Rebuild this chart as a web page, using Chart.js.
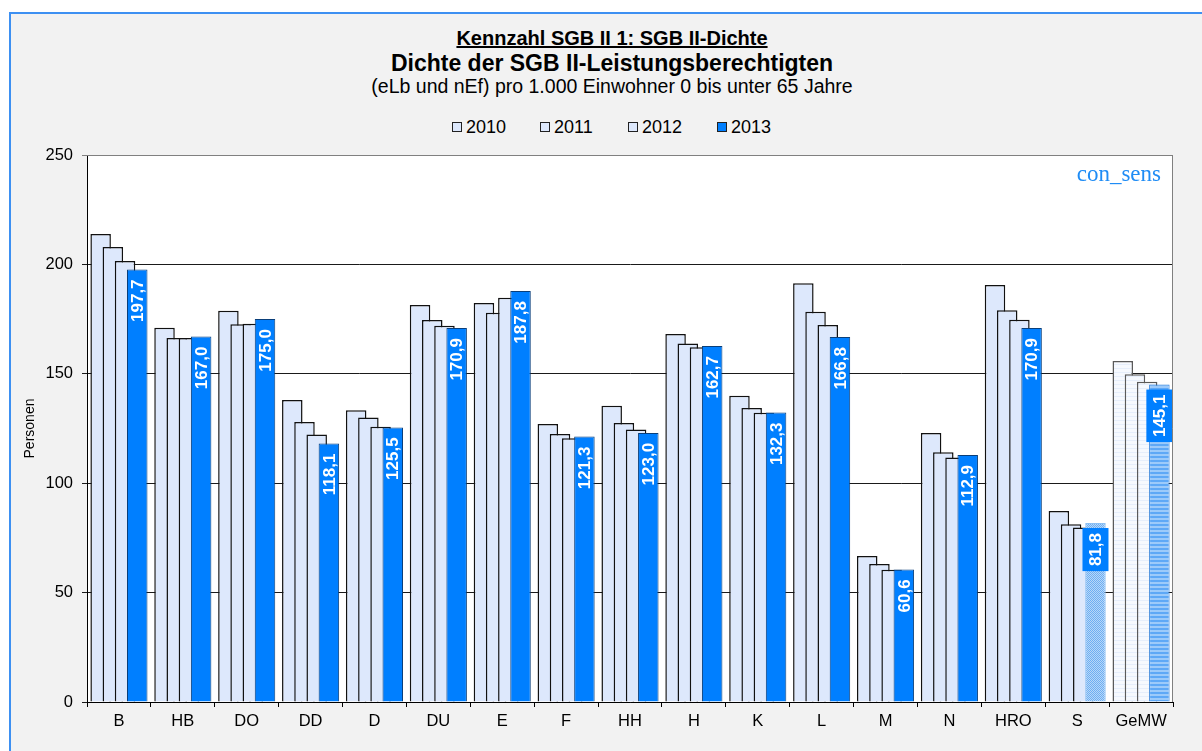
<!DOCTYPE html>
<html>
<head>
<meta charset="utf-8">
<script src="https://cdn.jsdelivr.net/npm/chart.js@4.4.1/dist/chart.umd.min.js"></script>
<style>
body { margin: 0; background: #fff; width: 1202px; height: 751px; overflow: hidden; font-family: Arial, "Liberation Sans", sans-serif; }
#frame { position: absolute; left: 9px; top: 12px; width: 1200px; height: 750px; background: #f2f2f2; border-left: 2px solid #3d90f2; border-top: 2px solid #3d90f2; }
.t { position: absolute; left: 0; width: 1224px; text-align: center; color: #000; white-space: nowrap; }
#t1 { top: 27px; font-size: 20px; font-weight: bold; line-height: 22px; text-decoration: underline; }
#t2 { top: 51px; font-size: 23px; font-weight: bold; line-height: 24px; }
#t3 { top: 76px; font-size: 19.5px; line-height: 20px; }
.lg { position: absolute; top: 116px; font-size: 18px; line-height: 22px; color: #000; }
.lg span { display: inline-block; width: 8px; height: 8px; border: 1px solid #222; margin-right: 4px; vertical-align: 1px; }
#chartBox { position: absolute; left: 0; top: 0; width: 1202px; height: 751px; }
</style>
</head>
<body>
<div id="frame"></div>
<div class="t" id="t1">Kennzahl SGB II 1: SGB II-Dichte</div>
<div class="t" id="t2">Dichte der SGB II-Leistungsberechtigten</div>
<div class="t" id="t3">(eLb und nEf) pro 1.000 Einwohner 0 bis unter 65 Jahre</div>
<div id="legend"></div>
<div id="chartBox"><canvas id="densityChart" width="1202" height="751"></canvas></div>
<script>
var categories = ['B', 'HB', 'DO', 'DD', 'D', 'DU', 'E', 'F', 'HH', 'H', 'K', 'L', 'M', 'N', 'HRO', 'S', 'GeMW'];
var years = ['2010', '2011', '2012', '2013'];
var values2010 = [213.9, 171.0, 178.8, 138.0, 133.3, 181.4, 182.4, 127.0, 135.4, 168.2, 140.0, 191.4, 66.7, 123.0, 190.6, 87.3, 155.9];
var values2011 = [207.9, 166.4, 172.6, 128.0, 130.0, 174.6, 177.9, 122.5, 127.5, 163.9, 134.4, 178.4, 63.1, 114.2, 179.0, 81.2, 149.8];
var values2012 = [201.6, 166.4, 172.9, 122.3, 125.8, 172.0, 184.8, 120.6, 124.6, 162.1, 132.2, 172.3, 60.5, 111.8, 174.7, 79.7, 146.4];
var values2013 = [197.7, 167.0, 175.0, 118.1, 125.5, 170.9, 187.8, 121.3, 123.0, 162.7, 132.3, 166.8, 60.6, 112.9, 170.9, 81.8, 145.1];
var yTicks = [0, 50, 100, 150, 200, 250];

var lightColor = '#dde8fc';
var mainColor = '#007fff';
var sIndex = categories.indexOf('S');
var avgIndex = categories.indexOf('GeMW');

function makePattern(w, h, paint) {
    var c = document.createElement('canvas');
    c.width = w;
    c.height = h;
    var g = c.getContext('2d');
    paint(g);
    return g.createPattern(c, 'repeat');
}

// GeMW bars: horizontal stripes, S 2013: fine dots
var avgLight = makePattern(4, 4, function(g) {
    g.fillStyle = '#f6f9fe'; g.fillRect(0, 0, 4, 4);
    g.fillStyle = '#e6eefb'; g.fillRect(0, 0, 4, 1);
});
var avgBlue = makePattern(4, 4, function(g) {
    g.fillStyle = '#9ccafa'; g.fillRect(0, 0, 4, 4);
    g.fillStyle = '#5ea8f6'; g.fillRect(0, 0, 4, 2);
});
var sDots = makePattern(2, 2, function(g) {
    g.fillStyle = '#b7d8f8'; g.fillRect(0, 0, 2, 2);
    g.fillStyle = '#6eaef2'; g.fillRect(0, 0, 1, 1); g.fillRect(1, 1, 1, 1);
});

function lightBg(ctx) { return ctx.dataIndex === avgIndex ? avgLight : lightColor; }
function lightBorder(ctx) { return ctx.dataIndex === avgIndex ? '#5a5a5a' : '#111'; }
function mainBg(ctx) {
    if (ctx.dataIndex === avgIndex) return avgBlue;
    if (ctx.dataIndex === sIndex) return sDots;
    return mainColor;
}
function mainBorder(ctx) {
    if (ctx.dataIndex === avgIndex) return '#2f7fd8';
    if (ctx.dataIndex === sIndex) return '#8cc0f4';
    return '#0a3f7a';
}

var seriesValues = [values2010, values2011, values2012, values2013];
var datasets = years.map(function(y, i) {
    var isMain = i === years.length - 1;
    return {
        label: y,
        data: seriesValues[i],
        backgroundColor: isMain ? mainBg : lightBg,
        borderColor: isMain ? mainBorder : lightBorder,
        borderWidth: isMain ? 1 : 1.5,
        barPercentage: 1.68,
        categoryPercentage: 0.764
    };
});

// legend in html
var legendLeft = [452, 540, 628, 717];
var legendHtml = '';
years.forEach(function(y, i) {
    var c = i === years.length - 1 ? mainColor : lightColor;
    legendHtml += '<div class="lg" style="left:' + legendLeft[i] + 'px"><span style="background:' + c + '"></span>' + y + '</div>';
});
document.getElementById('legend').innerHTML = legendHtml;

function fmt(v) { return v.toFixed(1).replace('.', ','); }

var plotPlugin = {
    id: 'plotPlugin',
    beforeDraw: function(chart) {
        var a = chart.chartArea, ctx = chart.ctx;
        ctx.save();
        ctx.fillStyle = '#fff';
        ctx.fillRect(a.left, a.top, a.right - a.left, a.bottom - a.top);
        ctx.restore();
    },
    // draw later years on top of earlier ones, then the value labels
    beforeDatasetsDraw: function(chart) {
        var a = chart.chartArea, ctx = chart.ctx;
        ctx.save();
        ctx.beginPath();
        ctx.rect(a.left, a.top, a.right - a.left, a.bottom - a.top);
        ctx.clip();
        for (var i = 0; i < chart.data.datasets.length; i++) {
            chart.getDatasetMeta(i).controller.draw();
        }
        var meta = chart.getDatasetMeta(years.length - 1);
        ctx.font = 'bold 17px Arial, "Liberation Sans", sans-serif';
        ctx.textBaseline = 'middle';
        ctx.textAlign = 'right';
        meta.data.forEach(function(bar, j) {
            var txt = fmt(values2013[j]);
            var w = ctx.measureText(txt).width;
            if (j === sIndex || j === avgIndex) {
                ctx.fillStyle = mainColor;
                ctx.fillRect(bar.x - 13, bar.y + 5, 26, w + 10);
            }
            ctx.save();
            ctx.translate(bar.x + 1, bar.y + 10);
            ctx.rotate(-Math.PI / 2);
            ctx.fillStyle = '#fff';
            ctx.fillText(txt, 0, 0);
            ctx.restore();
        });
        ctx.restore();
        return false;
    },
    afterDraw: function(chart) {
        var a = chart.chartArea, ctx = chart.ctx;
        ctx.save();
        ctx.strokeStyle = '#808080';
        ctx.lineWidth = 1;
        ctx.beginPath();
        ctx.moveTo(a.left, a.top + 0.5);
        ctx.lineTo(a.right - 0.5, a.top + 0.5);
        ctx.lineTo(a.right - 0.5, a.bottom);
        ctx.stroke();
        ctx.font = '23px "Liberation Serif", "Times New Roman", serif';
        ctx.fillStyle = '#1f8cf5';
        ctx.textAlign = 'right';
        ctx.textBaseline = 'alphabetic';
        ctx.fillText('con_sens', a.right - 12, a.top + 26);
        ctx.restore();
    }
};

var densityChart = new Chart(document.getElementById('densityChart'), {
    type: 'bar',
    data: { labels: categories, datasets: datasets },
    plugins: [plotPlugin],
    options: {
        responsive: false,
        animation: false,
        events: [],
        layout: { padding: { left: 12, right: 29, top: 155, bottom: 0 } },
        plugins: {
            legend: { display: false },
            title: { display: false },
            tooltip: { enabled: false }
        },
        scales: {
            x: {
                afterFit: function(s) { s.height = 49; },
                grid: { offset: true, drawOnChartArea: false, color: '#000', tickLength: 5 },
                border: { color: '#000', width: 1 },
                ticks: { color: '#000', padding: 5, font: { family: 'Arial, "Liberation Sans", sans-serif', size: 16.5 } }
            },
            y: {
                min: 0,
                max: 250,
                afterFit: function(s) { s.width = 75; },
                afterBuildTicks: function(s) { s.ticks = yTicks.map(function(v) { return { value: v }; }); },
                grid: {
                    color: function(c) { return c.tick && c.tick.value === 250 ? '#808080' : '#1a1a1a'; },
                    tickLength: 5
                },
                border: { color: '#000', width: 1 },
                ticks: { color: '#000', padding: 9, font: { family: 'Arial, "Liberation Sans", sans-serif', size: 16.5 } },
                title: {
                    display: true,
                    text: 'Personen',
                    color: '#000',
                    padding: { top: 10, bottom: 0 },
                    font: { family: 'Arial, "Liberation Sans", sans-serif', size: 14 }
                }
            }
        }
    }
});
</script>
</body>
</html>
